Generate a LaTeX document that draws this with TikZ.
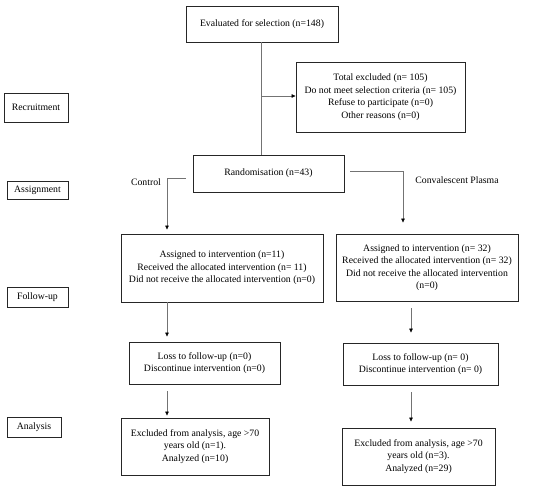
\documentclass[tikz,border=0pt]{standalone}
\usepackage{fontspec}
\setmainfont{Liberation Serif}
\usetikzlibrary{arrows.meta}
\begin{document}
\begin{tikzpicture}[x=1bp,y=-1bp,
  box/.style={draw=black!85,line width=0.9pt,rectangle,align=center,inner sep=1pt,
    font=\fontsize{9.8}{12.6}\selectfont},
  side/.style={box,line width=0.9pt},
  conn/.style={draw=black!55,line width=0.6pt},
  arr/.style={conn,-{Triangle[length=4pt,width=3.5pt,fill=black,color=black]}},
  lab/.style={font=\fontsize{9.8}{12.6}\selectfont,inner sep=0pt}]
\useasboundingbox (0,0) rectangle (550,490);
\node[box,minimum width=152bp,minimum height=36bp] (top) at (262,24) {Evaluated for selection (n=148)};
\node[box,minimum width=169bp,minimum height=70bp] (excl) at (380.5,97) {Total excluded (n= 105)\\Do not meet selection criteria (n= 105)\\Refuse to participate (n=0)\\Other reasons (n=0)};
\node[side,minimum width=64bp,minimum height=29bp] (recr) at (36,107.5) {Recruitment};
\node[box,minimum width=151bp,minimum height=37bp] (rand) at (268.5,173.5) {Randomisation (n=43)};
\node[side,minimum width=61bp,minimum height=18bp] (assign) at (37.5,190.5) {Assignment};
\node[box,minimum width=202bp,minimum height=68bp] (c1) at (222,268) {Assigned to intervention (n=11)\\Received the allocated intervention (n= 11)\\Did not receive the allocated intervention (n=0)};
\node[box,minimum width=182bp,minimum height=67bp] (p1) at (427,267.5) {Assigned to intervention (n= 32)\\Received the allocated intervention (n= 32)\\Did not receive the allocated intervention\\(n=0)};
\node[side,minimum width=61bp,minimum height=20bp] (follow) at (37.5,297.5) {Follow-up};
\node[box,minimum width=151bp,minimum height=42bp] (c2) at (204.5,363) {Loss to follow-up (n=0)\\Discontinue intervention (n=0)};
\node[box,minimum width=155bp,minimum height=42bp] (p2) at (420.5,364) {Loss to follow-up (n= 0)\\Discontinue intervention (n= 0)};
\node[side,minimum width=54bp,minimum height=20bp] (anal) at (34,427) {Analysis};
\node[box,minimum width=148bp,minimum height=57bp] (c3) at (195,446.5) {Excluded from analysis, age {>}70\\years old (n=1).\\Analyzed (n=10)};
\node[box,minimum width=153bp,minimum height=57bp] (p3) at (418.5,456.5) {Excluded from analysis, age {>}70\\years old (n=3).\\Analyzed (n=29)};
\node[lab] (lctrl) at (146,182) {Control};
\node[lab] (lcp) at (457,180) {Convalescent Plasma};
% connectors
\coordinate (m) at (261,96);
\draw[conn] (top.south -| m) -- (rand.north -| m);
\draw[arr] (m) -- (m -| excl.west);
\coordinate (cl) at (167,178);
\draw[arr,shorten <=7bp,shorten >=4bp] (rand.west |- cl) -- (cl) -- (cl |- c1.north);
\coordinate (cr) at (403,171);
\draw[arr,shorten <=6bp,shorten >=11bp] (rand.east |- cr) -- (cr) -- (cr |- p1.north);
\coordinate (lx) at (167,0);
\coordinate (rx) at (411,0);
\draw[arr,shorten >=5bp] (lx |- c1.south) -- (lx |- c2.north);
\draw[arr,shorten <=7bp,shorten >=10bp] (rx |- p1.south) -- (rx |- p2.north);
\draw[arr,shorten <=7bp,shorten >=2bp] (lx |- c2.south) -- (lx |- c3.north);
\draw[arr,shorten <=7bp,shorten >=6bp] (rx |- p2.south) -- (rx |- p3.north);
\end{tikzpicture}
\end{document}
